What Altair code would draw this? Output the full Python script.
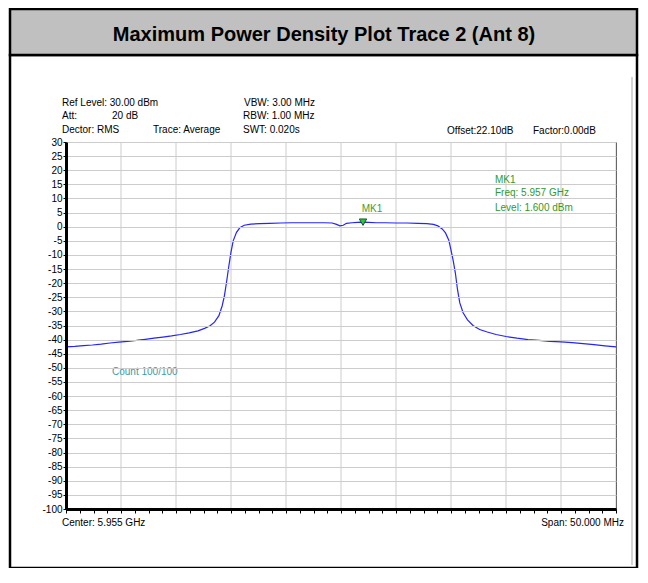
import altair as alt
import pandas as pd

# ---------------- data ----------------
freq_mhz = [5930.0, 5930.8, 5931.6, 5932.4, 5933.2, 5934.0, 5934.8, 5935.6, 5936.4, 5937.2,
            5938.0, 5938.8, 5939.6, 5940.4, 5941.2, 5942.0, 5942.6, 5943.1, 5943.5, 5943.9,
            5944.2, 5944.4, 5944.6, 5944.8, 5945.0, 5945.2, 5945.5, 5945.8, 5946.2, 5946.8,
            5947.6, 5948.5, 5949.5, 5950.5, 5951.5, 5952.5, 5953.5, 5954.2, 5954.6, 5954.9,
            5955.2, 5955.5, 5956.0, 5956.5, 5957.0, 5957.5, 5958.2, 5959.0, 5960.0, 5961.0,
            5962.0, 5962.8, 5963.4, 5963.8, 5964.2, 5964.5, 5964.8, 5965.0, 5965.2, 5965.4,
            5965.6, 5965.8, 5966.1, 5966.5, 5967.0, 5967.6, 5968.3, 5969.1, 5970.0, 5971.0,
            5972.0, 5973.0, 5974.0, 5975.0, 5976.0, 5977.0, 5978.0, 5979.0, 5980.0]
level_dbm = [-42.6, -42.4, -42.1, -41.9, -41.6, -41.2, -40.9, -40.6, -40.3, -39.9,
             -39.5, -39.1, -38.7, -38.2, -37.6, -36.9, -36.0, -35.1, -33.8, -31.5,
             -28.0, -24.5, -19.5, -14.0, -9.0, -5.0, -2.0, -0.4, 0.5, 0.9,
             1.1, 1.2, 1.3, 1.4, 1.4, 1.4, 1.4, 1.3, 0.8, 0.3,
             0.5, 1.2, 1.4, 1.5, 1.6, 1.5, 1.4, 1.4, 1.3, 1.3,
             1.2, 1.1, 0.8, 0.3, -0.8, -2.2, -4.8, -8.3, -12.0, -16.5,
             -22.5, -27.0, -30.5, -33.0, -35.0, -36.4, -37.3, -38.2, -38.9, -39.5,
             -40.0, -40.3, -40.6, -40.8, -41.1, -41.4, -41.8, -42.2, -42.6]

marker_freq = [5957.0]
marker_level = [1.6]

grid_freqs = [5930, 5935, 5940, 5945, 5950, 5955, 5960, 5965, 5970, 5975, 5980]
minor_ticks = [5930 + 1.25 * i for i in range(41)]
y_ticks = list(range(-100, 31, 5))

title_text = "Maximum Power Density Plot Trace 2 (Ant 8)"
header_texts = ["Ref Level: 30.00 dBm", "Att:", "20 dB", "Dector: RMS", "Trace: Average",
                "VBW: 3.00 MHz", "RBW: 1.00 MHz", "SWT: 0.020s",
                "Offset:22.10dB", "Factor:0.00dB"]
marker_texts = ["MK1", "Freq: 5.957 GHz", "Level: 1.600 dBm"]
count_text = "Count 100/100"
center_text = "Center: 5.955 GHz"
span_text = "Span: 50.000 MHz"

# ---------------- chart ----------------
FONT = "Liberation Sans"
trace = pd.DataFrame({"f": freq_mhz, "lvl": level_dbm})
mk = pd.DataFrame({"f": marker_freq, "lvl": marker_level})
grid = pd.DataFrame({"f": grid_freqs})

xscale = alt.Scale(domain=[5930, 5980], nice=False, zero=False)
yscale = alt.Scale(domain=[-100, 30], nice=False, zero=False)

xaxis = alt.Axis(values=minor_ticks, labels=False, grid=False, tickSize=4,
                 tickColor="black", tickWidth=1, domainColor="black", domainWidth=3,
                 title=None, zindex=1)
yaxis = alt.Axis(values=y_ticks, grid=True, gridColor="#cccccc", gridWidth=1,
                 tickSize=3, tickColor="black", tickWidth=1, domainColor="black",
                 domainWidth=3, labelFont=FONT, labelFontSize=10,
                 labelColor="black", labelPadding=1, labelOverlap=False,
                 labelExpr="datum.value + ''", title=None, zindex=1)

one = alt.Data(values=[{"a": 1}])


def txt(s, x, y, size=10, color="black", align="left", weight="normal", font=FONT):
    return alt.Chart(one).mark_text(
        text=s, align=align, baseline="middle", fontSize=size, color=color,
        fontWeight=weight, font=font
    ).encode(x=alt.value(x), y=alt.value(y))


def rect(x, x2, y, y2, fill, stroke, sw):
    return alt.Chart(one).mark_rect(
        fill=fill, stroke=stroke, strokeWidth=sw
    ).encode(x=alt.value(x), x2=alt.value(x2), y=alt.value(y), y2=alt.value(y2))


outer = rect(-56, 571, -87, 426, "transparent", "black", 2.5)
band = rect(-56, 571, -133, -87, "#c0c0c0", "black", 2.5)
side_line = alt.Chart(one).mark_rule(color="#a8a8a8", strokeWidth=1).encode(
    x=alt.value(566), y=alt.value(-65), y2=alt.value(423))

gridrules = alt.Chart(grid).mark_rule(color="#cccccc", strokeWidth=1).encode(
    x=alt.X("f:Q", scale=xscale, axis=xaxis))

line = alt.Chart(trace).mark_line(color="#2424ff", strokeWidth=1.2).encode(
    x=alt.X("f:Q", scale=xscale, axis=xaxis),
    y=alt.Y("lvl:Q", scale=yscale, axis=yaxis),
)

marker = alt.Chart(mk).mark_point(
    shape="triangle-down", filled=True, size=55, fill="#22cc33",
    stroke="#1a5a1a", strokeWidth=1, opacity=1
).encode(x=alt.X("f:Q", scale=xscale, axis=xaxis),
         y=alt.Y("lvl:Q", scale=yscale, axis=yaxis))

texts = [
    txt(title_text, 258, -107, size=20, weight="bold", align="center"),
    txt(header_texts[0], -4, -39),
    txt(header_texts[1], -4, -26),
    txt(header_texts[2], 46, -26),
    txt(header_texts[3], -4, -12),
    txt(header_texts[4], 87, -12),
    txt(header_texts[5], 178, -39),
    txt(header_texts[6], 177, -26),
    txt(header_texts[7], 177, -12),
    txt(header_texts[8], 381, -11),
    txt(header_texts[9], 467, -11),
    txt(marker_texts[0], 306, 67, color="#3c9c3c", align="center"),
    txt(marker_texts[0], 429, 38, color="#2e9a2e"),
    txt(marker_texts[1], 429, 51, color="#2e9a2e"),
    txt(marker_texts[2], 429, 66, color="#2e9a2e"),
    txt(count_text, 46, 230, color="#3a9aa8"),
    txt(center_text, -4, 381),
    txt(span_text, 558, 381, align="right"),
]

chart = alt.layer(outer, band, side_line, gridrules, line, marker, *texts).properties(
    width=550, height=367,
    autosize=alt.AutoSizeParams(type="none"),
    padding={"left": 58, "top": 134, "right": 24, "bottom": 59},
).configure_view(stroke="black", strokeWidth=1)

chart.save("out.html", embed_options={"renderer": "svg", "actions": False})
